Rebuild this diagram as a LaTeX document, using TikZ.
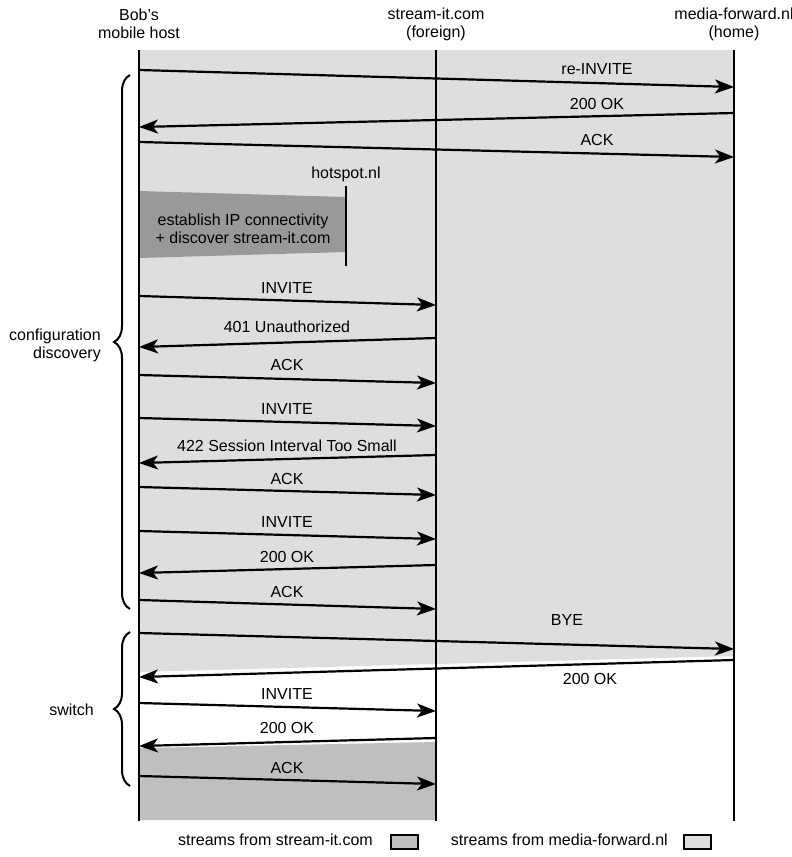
\documentclass[tikz,border=0pt]{standalone}
\usepackage{fontspec}
\setmainfont{Liberation Sans}
\usetikzlibrary{arrows.meta,decorations.pathreplacing}
\definecolor{lightg}{RGB}{222,222,222}
\definecolor{darkg}{RGB}{191,191,191}
\definecolor{hotg}{RGB}{153,153,153}
\begin{document}
\begin{tikzpicture}[x=1pt,y=-1pt,
  font=\fontsize{16}{18}\selectfont,
  life/.style={line width=2.4pt},
  msg/.style={line width=2.2pt,-{Stealth[length=19pt,width=14pt,inset=5pt]}},
  lbl/.style={inner sep=0pt,text height=11pt,text depth=3pt},
  hdr/.style={inner sep=0pt,align=center},
  brc/.style={line width=2pt,decorate,decoration={brace,amplitude=16pt}},
  legbox/.style={line width=2pt,draw=black}]
\useasboundingbox (0,0) rectangle (792,857);
% shaded regions
\fill[lightg] (139,50) -- (734,50) -- (734,656) -- (139,672) -- cycle;
\fill[darkg] (139,748) -- (436,742) -- (436,820) -- (139,820) -- cycle;
\fill[hotg] (139,191) -- (346,197) -- (346,252) -- (139,258) -- cycle;
% headers
\node[hdr] (bob) at (139,24) {Bob's\\mobile host};
\node[hdr] (sit) at (436,24) {stream-it.com\\(foreign)};
\node[hdr] (mf) at (734,24) {media-forward.nl\\(home)};
% lifelines
\coordinate (bobT) at (139,50); \coordinate (bobB) at (139,821);
\coordinate (sitT) at (436,50); \coordinate (sitB) at (436,821);
\coordinate (mfT) at (734,50); \coordinate (mfB) at (734,821);
\draw[life] (bobT) -- (bobB);
\draw[life] (sitT) -- (sitB);
\draw[life] (mfT) -- (mfB);
% hotspot
\node[lbl] (hs) at (346,174) {hotspot.nl};
\coordinate (hsT) at (346,186); \coordinate (hsB) at (346,266);
\draw[life] (hsT) -- (hsB);
\node[hdr] (est) at (243,229) {establish IP connectivity\\+ discover stream-it.com};
% messages
\coordinate (a1) at (139,70); \coordinate (b1) at (734,87);
\draw[msg] (a1) -- (b1); \node[lbl] (t1) at (597,70) {re-INVITE};
\coordinate (a2) at (734,113); \coordinate (b2) at (139,127);
\draw[msg] (a2) -- (b2); \node[lbl] (t2) at (597,105) {200 OK};
\coordinate (a3) at (139,142); \coordinate (b3) at (734,157);
\draw[msg] (a3) -- (b3); \node[lbl] (t3) at (597,141) {ACK};
\coordinate (a4) at (139,296); \coordinate (b4) at (436,305);
\draw[msg] (a4) -- (b4); \node[lbl] (t4) at (287,289) {INVITE};
\coordinate (a5) at (436,338); \coordinate (b5) at (139,347);
\draw[msg] (a5) -- (b5); \node[lbl] (t5) at (287,328) {401 Unauthorized};
\coordinate (a6) at (139,375); \coordinate (b6) at (436,383);
\draw[msg] (a6) -- (b6); \node[lbl] (t6) at (287,366) {ACK};
\coordinate (a7) at (139,418); \coordinate (b7) at (436,426);
\draw[msg] (a7) -- (b7); \node[lbl] (t7) at (287,410) {INVITE};
\coordinate (a8) at (436,455); \coordinate (b8) at (139,463);
\draw[msg] (a8) -- (b8); \node[lbl] (t8) at (287,447) {422 Session Interval Too Small};
\coordinate (a9) at (139,487); \coordinate (b9) at (436,495);
\draw[msg] (a9) -- (b9); \node[lbl] (t9) at (287,480) {ACK};
\coordinate (a10) at (139,531); \coordinate (b10) at (436,539);
\draw[msg] (a10) -- (b10); \node[lbl] (t10) at (287,523) {INVITE};
\coordinate (a11) at (436,565); \coordinate (b11) at (139,573);
\draw[msg] (a11) -- (b11); \node[lbl] (t11) at (287,558) {200 OK};
\coordinate (a12) at (139,600); \coordinate (b12) at (436,609);
\draw[msg] (a12) -- (b12); \node[lbl] (t12) at (287,593) {ACK};
\coordinate (a13) at (139,633); \coordinate (b13) at (734,649);
\draw[msg] (a13) -- (b13); \node[lbl] (t13) at (567,621) {BYE};
\coordinate (a14) at (734,660); \coordinate (b14) at (139,677);
\draw[msg] (a14) -- (b14); \node[lbl] (t14) at (590,680) {200 OK};
\coordinate (a15) at (139,703); \coordinate (b15) at (436,711);
\draw[msg] (a15) -- (b15); \node[lbl] (t15) at (287,695) {INVITE};
\coordinate (a16) at (436,738); \coordinate (b16) at (139,746);
\draw[msg] (a16) -- (b16); \node[lbl] (t16) at (287,729) {200 OK};
\coordinate (a17) at (139,776); \coordinate (b17) at (436,784);
\draw[msg] (a17) -- (b17); \node[lbl] (t17) at (287,769) {ACK};
% braces
\coordinate (br1a) at (130,609); \coordinate (br1b) at (130,75);
\draw[brc] (br1a) -- (br1b);
\node[hdr,align=right,anchor=east] (cd) at (101,345) {configuration\\discovery};
\coordinate (br2a) at (130,786); \coordinate (br2b) at (130,632);
\draw[brc] (br2a) -- (br2b);
\node[lbl,anchor=east] (sw) at (94,711) {switch};
% legend
\node[lbl,anchor=east] (lg1) at (373,841) {streams from stream-it.com};
\node[legbox,fill=darkg,minimum width=27pt,minimum height=14pt,inner sep=0pt] (bx1) at (404,842) {};
\node[lbl,anchor=east] (lg2) at (668,841) {streams from media-forward.nl};
\node[legbox,fill=lightg,minimum width=27pt,minimum height=14pt,inner sep=0pt] (bx2) at (697,842) {};
\end{tikzpicture}
\end{document}
